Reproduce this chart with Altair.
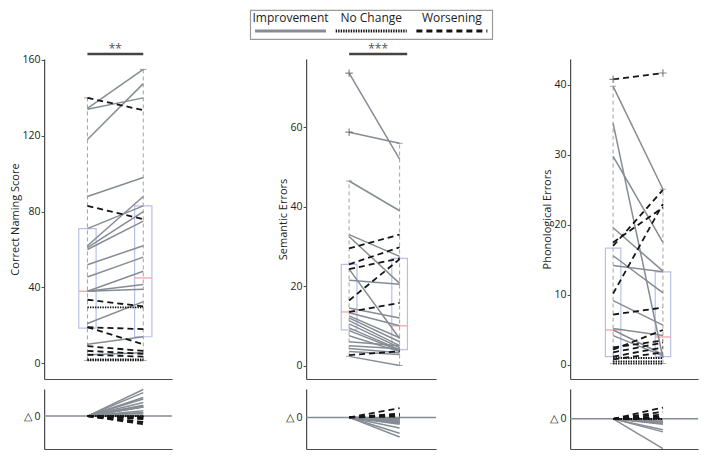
import altair as alt
import pandas as pd

CATS = ["Improvement", "No Change", "Worsening"]
GRAY = "#868c94"
BLACK = "#151515"
AXIS = "#4a4a4a"
FONT = "Open Sans"

# ---------------- data ----------------
# Correct Naming Score (higher = better)
naming_pre = [134.5, 134, 118, 140, 88, 83, 71, 62, 61, 60, 52, 45.5, 38, 38, 38,
              33.5, 29.5, 21, 19, 19, 10, 9, 6.5, 4.5, 4.5, 2, 1.5]
naming_post = [155, 140, 147.5, 133.5, 98, 76, 83, 88, 80, 75, 62, 56, 48.5, 41.5, 39,
               30, 29.5, 32.5, 18, 10, 14, 6.5, 5, 5.5, 3.5, 2, 1.5]
naming_box_pre = [18.5, 38, 71, 1.5, 140]     # q1, median, q3, whisker low, whisker high
naming_box_post = [14, 45, 83, 1.5, 155]
naming_out_pre = []
naming_out_post = []
naming_ticks = [0, 40, 80, 120, 160]
naming_sig = "**"

# Semantic Errors (lower = better)
sem_pre = [73.7, 58.8, 46.5, 33, 32.5, 29.5, 25.5, 24.3, 24.3, 21.5, 16.4, 13.5, 14.5, 13.3,
           12.5, 12, 11.3, 10.5, 9.5, 8.8, 7.5, 6, 5, 4.3, 3.5, 2.3, 2.6]
sem_post = [52, 56, 39, 27.5, 20.7, 33, 29.8, 27, 6.8, 20.5, 26.8, 15.8, 12, 10,
            7, 6, 5, 4.5, 4, 3.8, 3.5, 5, 4.2, 3.2, 2.8, 0, 3.6]
sem_box_pre = [9, 13.5, 25.5, 2.3, 46.5]
sem_box_post = [4, 10, 27, 0, 56]
sem_out_pre = [73.7, 58.8]
sem_out_post = []
sem_ticks = [0, 20, 40, 60]
sem_sig = "***"

# Phonological Errors (lower = better)
phon_pre = [40.8, 39.8, 34.5, 29.8, 17, 17.5, 10.2, 19.6, 15.6, 14.2, 9.2, 7.2, 5.2, 5,
            4.2, 2.2, 2.5, 1.8, 1.2, 0.8, 1, 0.5, 0.2]
phon_post = [41.7, 25.1, 1, 17.5, 25, 22.5, 23, 13.4, 10.3, 13.3, 5.7, 8.2, 4.2, 1.5,
             1.3, 5, 3.5, 3.2, 2.5, 1.8, 1, 0.5, 0.2]
phon_box_pre = [1.2, 5, 16.7, 0.2, 39.8]
phon_box_post = [1.2, 4, 13.3, 0.2, 25.1]
phon_out_pre = [40.8]
phon_out_post = [41.7]
phon_ticks = [0, 10, 20, 30, 40]
phon_sig = ""

HW = 0.155   # half box width (x units)
CW = 0.06    # half cap width
PLUS = "M-1,0L1,0M0,-1L0,1"


def lines_frame(pre, post, higher_better):
    rows = []
    for i, (a, b) in enumerate(zip(pre, post)):
        d = b - a
        if abs(d) < 1e-9:
            cat = "No Change"
        elif (d > 0) == higher_better:
            cat = "Improvement"
        else:
            cat = "Worsening"
        rows.append({"id": i, "t": 0, "v": a, "dv": 0.0, "cat": cat})
        rows.append({"id": i, "t": 1, "v": b, "dv": d, "cat": cat})
    return pd.DataFrame(rows)


def line_layers(df, field, xs, ys, xaxis, yaxis):
    imp = alt.Chart(df).transform_filter("datum.cat == 'Improvement'").mark_line(
        color=GRAY, strokeWidth=1.5).encode(
        x=alt.X("t:Q", scale=xs, axis=xaxis),
        y=alt.Y(f"{field}:Q", scale=ys, axis=yaxis),
        detail="id:N")
    oth = alt.Chart(df).transform_filter("datum.cat != 'Improvement'").mark_line(
        color=BLACK, strokeWidth=1.8).encode(
        x=alt.X("t:Q", scale=xs, axis=xaxis),
        y=alt.Y(f"{field}:Q", scale=ys, axis=yaxis),
        detail="id:N",
        strokeDash=alt.StrokeDash("cat:N", scale=alt.Scale(domain=["No Change", "Worsening"],
                                                           range=[[1.3, 1.3], [5, 3]]), legend=None))
    return [imp, oth]


def build_panels(pre, post, higher_better, box_pre, box_post, out_pre, out_post, ticks,
                 title, sig, sig_end, y_dom, x_dom, d_dom, width, height, dheight):
    df = lines_frame(pre, post, higher_better)
    keys = ["q1", "med", "q3", "lo", "hi"]
    stats = pd.DataFrame([dict(t=0, **dict(zip(keys, box_pre))),
                          dict(t=1, **dict(zip(keys, box_post)))])
    xs = alt.Scale(domain=x_dom, nice=False, zero=False)
    ys = alt.Scale(domain=y_dom, nice=False, zero=False)
    ds = alt.Scale(domain=d_dom, nice=False, zero=False)
    xaxis = alt.Axis(labels=False, ticks=False, title=None, grid=False,
                     domainColor=AXIS, domainWidth=1.2)
    yaxis = alt.Axis(values=ticks, title=title, grid=False, tickSize=3, tickColor=AXIS,
                     domainColor=AXIS, domainWidth=1.2, labelFontSize=10.5, labelColor="#222",
                     labelPadding=1, titleFontSize=11, titleFontWeight="normal",
                     titleColor="#222", titlePadding=2, labelFont=FONT, titleFont=FONT)
    daxis = alt.Axis(values=[0], labelExpr="'\u25b3 0'", title=None, ticks=False, grid=False,
                     domainColor=AXIS, domainWidth=1.2, labelFontSize=10.5, labelColor="#222",
                     labelPadding=4, labelFont=FONT)

    def X(f):
        return alt.X(f, scale=xs, axis=xaxis)

    def Y(f):
        return alt.Y(f, scale=ys, axis=yaxis)

    sb = alt.Chart(stats).transform_calculate(
        x0=f"datum.t - {HW}", x1=f"datum.t + {HW}",
        c0=f"datum.t - {CW}", c1=f"datum.t + {CW}")
    whisk = sb.mark_rule(color="#a3a3a3", strokeDash=[4, 3], strokeWidth=1).encode(
        x=X("t:Q"), y=Y("lo:Q"), y2="hi:Q")
    cap_hi = sb.mark_rule(color="#a3a3a3", strokeWidth=1).encode(
        x=X("c0:Q"), x2="c1:Q", y=Y("hi:Q"))
    cap_lo = sb.mark_rule(color="#a3a3a3", strokeWidth=1).encode(
        x=X("c0:Q"), x2="c1:Q", y=Y("lo:Q"))
    box = sb.mark_rect(fillOpacity=0, stroke="#b9c0e6", strokeWidth=1.2).encode(
        x=X("x0:Q"), x2="x1:Q", y=Y("q1:Q"), y2="q3:Q")
    med = sb.mark_rule(color="#f29c9c", strokeWidth=1.2).encode(
        x=X("x0:Q"), x2="x1:Q", y=Y("med:Q"))
    layers = [whisk, cap_hi, cap_lo, box, med] + line_layers(df, "v", xs, ys, xaxis, yaxis)

    if out_pre or out_post:
        outl = pd.DataFrame({"t": [0] * len(out_pre) + [1] * len(out_post),
                             "v": list(out_pre) + list(out_post)})
        layers.append(alt.Chart(outl).mark_point(shape=PLUS, size=55, filled=False,
                                                 color="#555", strokeWidth=1.2).encode(
            x=X("t:Q"), y=Y("v:Q")))

    if sig:
        span = y_dom[1] - y_dom[0]
        sdf = pd.DataFrame({"x0": [0], "x1": [sig_end], "label": [sig]})
        sbase = alt.Chart(sdf).transform_calculate(
            y=f"{y_dom[1]} + {span} * 0.016", xm="(datum.x0 + datum.x1) / 2")
        layers.append(sbase.mark_rule(color="#444", strokeWidth=2.5).encode(
            x=X("x0:Q"), x2="x1:Q", y=Y("y:Q")))
        layers.append(sbase.mark_text(font=FONT, fontSize=12, color="#555",
                                      baseline="alphabetic", dy=-1).encode(
            x=X("xm:Q"), y=Y("y:Q"), text="label:N"))

    main = alt.layer(*layers).properties(width=width, height=height)

    # delta panel
    zero = alt.Chart(pd.DataFrame({"z": [0]})).mark_rule(color=GRAY, strokeWidth=1.5).encode(
        y=alt.Y("z:Q", scale=ds, axis=daxis))
    dlines = line_layers(df, "dv", xs, ds, xaxis, daxis)
    delta = alt.layer(zero, *dlines).properties(width=width, height=dheight)

    return main, delta


MH = 320
DH = 60

m1, d1 = build_panels(naming_pre, naming_post, True, naming_box_pre, naming_box_post,
                      naming_out_pre, naming_out_post, naming_ticks, "Correct Naming Score",
                      naming_sig, 1.0, [-8.3, 160.5], [-0.776, 1.517], [-36.5, 30], 128, MH, DH)
m2, d2 = build_panels(sem_pre, sem_post, False, sem_box_pre, sem_box_post,
                      sem_out_pre, sem_out_post, sem_ticks, "Semantic Errors",
                      sem_sig, 1.15, [-3.4, 77.25], [-0.851, 1.723], [-35, 31.5], 130, MH, DH)
m3, d3 = build_panels(phon_pre, phon_post, False, phon_box_pre, phon_box_post,
                      phon_out_pre, phon_out_post, phon_ticks, "Phonological Errors",
                      phon_sig, 1.0, [-2, 43.7], [-0.863, 1.706], [-34, 33.7], 128, MH, DH)

# legend
leg = pd.DataFrame({"label": CATS, "i": [0, 1, 2]})
lx = alt.Scale(domain=[0, 3], nice=False, zero=False)
ly = alt.Scale(type="point", domain=["text", "symbol"], padding=0.6)
lbase = alt.Chart(leg).transform_calculate(
    xm="datum.i + 0.5", xa="datum.i + 0.06", xb="datum.i + 0.94",
    rt="'text'", rs="'symbol'")
ltext = lbase.mark_text(font=FONT, fontSize=12, color="#222").encode(
    x=alt.X("xm:Q", scale=lx, axis=None), y=alt.Y("rt:N", scale=ly, axis=None),
    text="label:N")
lsym = lbase.mark_rule(strokeWidth=3).encode(
    x=alt.X("xa:Q", scale=lx, axis=None), x2="xb:Q",
    y=alt.Y("rs:N", scale=ly, axis=None),
    color=alt.Color("label:N", scale=alt.Scale(domain=CATS, range=[GRAY, BLACK, BLACK]),
                    legend=None),
    strokeDash=alt.StrokeDash("label:N", scale=alt.Scale(domain=CATS,
                                                         range=[[1, 0], [1.4, 1.1], [6, 4]]),
                              legend=None))
legend = alt.layer(ltext, lsym).properties(
    width=242, height=29, view=alt.ViewBackground(stroke="#9a9a9a", strokeWidth=1.2))

grid = alt.concat(m1, m2, m3, d1, d2, d3, columns=3,
                  spacing={"row": 10, "column": 134}, bounds="flush")

chart = alt.vconcat(legend, grid, spacing=2, center=True).properties(
    padding={"left": 1, "top": 1, "right": 1, "bottom": 1}
).configure_view(strokeWidth=0)

chart.save("out.html", embed_options={"renderer": "svg", "actions": False})
